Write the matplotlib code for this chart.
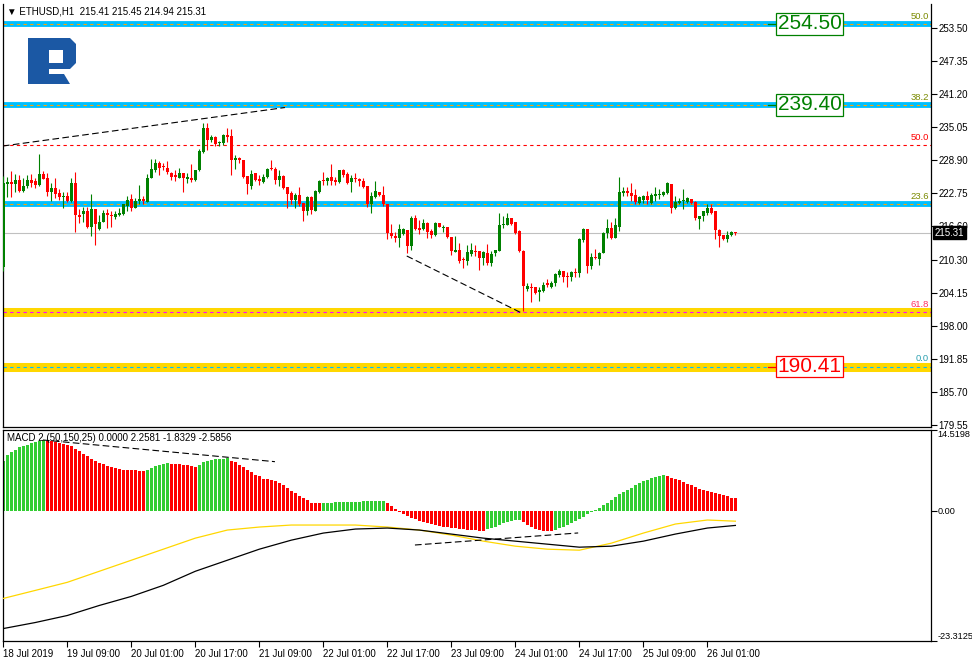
import matplotlib
matplotlib.use('Agg')
import matplotlib.pyplot as plt
import matplotlib.transforms as mtransforms
from matplotlib.patches import Polygon

plt.rcParams['font.family'] = ['Liberation Sans', 'DejaVu Sans']

# ---------------- data ----------------
opens = [208.9,224.4,224.8,224.5,225.1,223.2,224.0,225.1,224.9,224.3,226.3,225.5,223.0,223.7,222.8,221.9,222.2,221.3,224.6,218.7,
         218.8,219.4,216.5,219.8,216.1,217.3,219.1,218.7,218.2,218.6,218.8,220.4,221.6,220.0,221.2,221.7,221.0,225.6,227.0,228.3,
         227.6,227.3,226.5,226.0,225.6,226.5,225.4,225.6,225.1,227.0,230.4,234.9,232.6,233.1,232.0,232.0,233.5,233.3,228.9,229.3,
         228.9,225.9,224.1,226.4,225.4,224.8,225.7,227.3,227.2,225.2,225.9,223.8,222.7,221.5,222.4,220.9,219.3,221.9,219.4,222.9,
         225.1,224.9,225.8,225.1,224.7,227.0,226.2,224.7,225.6,225.4,225.0,224.0,220.6,222.0,222.9,222.4,220.6,215.3,214.8,214.4,
         215.1,215.9,212.8,218.1,216.2,216.0,217.2,215.6,215.0,217.2,216.3,216.5,214.6,211.8,212.2,210.5,210.1,211.3,212.0,211.9,
         210.7,211.6,209.8,211.5,211.9,216.7,216.7,218.0,217.3,215.6,212.0,204.9,205.2,205.2,204.3,204.5,205.9,205.3,205.9,207.4,
         208.3,207.3,207.2,208.0,207.9,213.9,216.0,209.1,210.9,210.4,211.6,215.3,216.3,214.4,216.4,222.8,223.1,222.8,222.4,220.9,
         221.5,222.2,220.9,222.2,222.4,222.3,222.7,224.4,220.0,220.9,221.2,221.0,221.6,221.0,217.9,218.4,219.0,220.0,219.3,215.9,
         215.0,214.2,214.9,215.41]
highs = [225.9,225.7,226.8,226.3,226.0,225.5,226.1,226.3,225.5,230.0,226.8,226.4,224.6,225.5,223.5,223.0,223.0,225.5,226.7,219.8,
         220.1,220.1,222.6,219.8,218.7,219.5,219.8,219.3,219.3,219.9,220.7,222.1,222.6,221.8,224.3,222.2,226.2,229.0,229.1,228.6,
         228.3,228.7,226.7,227.0,227.3,226.5,226.4,228.1,227.1,230.9,235.7,235.7,233.5,233.3,232.5,233.7,234.8,234.6,229.8,229.5,
         228.9,225.9,227.0,226.5,226.1,226.3,227.3,228.9,227.5,227.0,226.1,223.8,223.1,222.7,223.8,220.9,222.1,222.1,223.3,225.1,
         226.7,225.8,228.1,225.8,227.1,227.2,226.6,226.1,226.4,225.6,225.5,224.0,222.9,224.9,223.0,224.1,220.6,217.0,215.4,216.9,
         216.3,215.9,218.4,218.7,217.8,217.9,217.3,216.0,217.3,217.2,216.7,216.5,214.6,214.8,213.5,210.9,213.1,213.5,213.1,211.9,
         211.9,213.3,211.9,212.2,219.0,218.4,219.0,218.1,217.3,215.8,212.2,206.0,205.9,205.2,205.3,206.2,206.8,206.4,207.8,208.6,
         208.3,208.1,208.3,208.7,214.4,216.2,216.0,211.5,212.3,211.7,215.5,217.9,217.4,218.1,225.7,223.8,223.8,224.6,223.5,222.2,
         222.4,223.1,222.8,223.8,223.5,223.2,224.8,224.4,222.2,221.8,223.5,222.0,221.6,221.2,218.5,219.3,220.6,220.7,219.3,216.0,
         215.0,215.6,215.6,215.45]
lows = [208.2,222.0,221.9,223.0,223.0,223.0,223.6,223.8,223.6,224.1,225.3,222.1,221.3,221.8,221.5,220.0,221.0,221.0,215.5,217.2,
        217.4,216.2,214.7,213.1,215.9,217.3,216.2,216.5,217.9,218.4,218.7,219.3,219.4,219.9,220.6,220.6,221.0,225.5,226.7,226.0,
        227.0,226.2,225.2,224.9,225.5,223.0,224.6,224.7,225.0,226.9,230.1,230.7,232.3,231.5,231.5,231.7,232.3,226.1,227.2,228.3,
        225.5,222.6,223.5,224.9,224.3,224.6,225.5,227.0,224.4,224.0,223.5,220.0,220.7,220.0,220.4,217.6,218.7,218.9,219.3,222.7,
        224.3,224.3,224.3,224.3,224.6,225.8,224.4,223.0,224.8,224.1,223.6,220.2,219.1,221.8,222.2,220.4,214.2,214.4,213.6,212.7,
        215.0,211.5,212.2,215.8,215.2,215.8,214.4,214.4,214.8,216.4,215.4,214.4,211.2,211.7,209.8,208.8,209.3,211.1,211.0,208.4,
        209.4,209.3,209.1,211.1,211.9,216.3,216.7,216.7,215.1,211.7,200.8,204.5,202.5,204.0,202.6,204.3,205.3,205.1,205.4,207.2,
        206.2,205.2,206.3,207.1,207.1,213.6,207.8,208.6,210.5,209.3,211.5,214.4,214.2,214.4,215.6,222.1,222.2,221.2,220.7,220.7,
        220.9,220.7,220.7,221.3,221.6,222.1,222.6,219.1,219.8,220.6,219.8,220.9,220.7,217.8,216.1,217.5,218.7,218.9,214.1,212.6,
        213.9,213.6,214.7,214.94]
closes = [224.6,224.8,224.4,225.1,223.2,224.1,225.1,224.6,224.3,226.3,225.4,223.0,223.7,222.6,221.9,222.2,221.3,224.6,218.7,218.2,
          219.4,216.5,219.8,217.0,217.4,219.1,218.6,218.5,218.9,219.0,220.6,221.5,220.0,221.3,221.6,221.2,225.5,227.2,228.3,227.3,
          227.5,226.6,225.8,225.7,226.5,225.5,225.7,225.1,227.0,230.6,234.9,232.6,233.1,231.8,232.3,233.5,233.1,228.9,229.3,228.8,
          225.7,224.4,226.3,225.1,224.9,225.7,227.2,227.2,225.2,225.9,223.6,222.6,221.5,222.4,220.6,219.3,221.9,219.6,223.1,225.0,
          224.9,225.5,224.9,224.7,227.0,226.0,224.6,225.6,225.4,224.9,223.8,220.6,222.1,223.2,222.4,220.6,215.3,214.7,214.3,216.0,
          216.0,212.8,218.1,216.0,215.9,217.2,215.4,215.0,217.2,216.4,216.5,214.6,211.9,212.2,210.1,210.2,211.7,212.1,211.8,210.7,
          211.7,209.8,211.3,212.1,216.7,216.9,218.0,216.9,215.3,211.9,205.4,205.5,205.0,204.1,204.7,205.7,205.7,205.9,207.6,208.3,
          207.2,207.1,208.0,207.8,214.1,216.0,209.1,210.9,210.7,211.6,215.3,216.2,214.4,216.7,222.9,223.1,222.8,222.2,221.0,222.0,
          222.2,221.4,222.4,222.6,222.6,222.9,224.6,219.9,221.0,221.3,221.4,221.8,220.9,218.0,218.5,219.3,220.0,219.0,215.9,214.8,
          214.2,215.0,215.5,215.31]

# MACD histogram (one value per bar, 184 bars)
macd_hist = [9.0,10.1,10.6,11.0,11.4,11.6,11.9,12.2,12.4,12.6,12.8,12.6,12.5,12.3,12.2,12.0,11.8,11.6,11.2,10.7,
             10.2,9.8,9.3,8.9,8.6,8.4,8.1,7.9,7.7,7.5,7.4,7.35,7.3,7.28,7.25,7.2,7.4,7.7,8.0,8.3,
             8.5,8.55,8.5,8.45,8.4,8.3,8.2,8.0,7.9,8.3,8.7,9.0,9.2,9.25,9.3,9.4,9.45,9.0,8.7,8.3,
             7.9,7.4,6.9,6.5,6.2,5.8,5.7,5.6,5.3,5.0,4.6,4.1,3.6,3.2,2.7,2.3,1.9,1.5,1.45,1.4,
             1.45,1.5,1.52,1.55,1.58,1.6,1.62,1.64,1.66,1.68,1.7,1.72,1.74,1.76,1.78,1.8,
             1.4,0.9,0.4,-0.1,-0.5,-0.9,-1.2,-1.5,-1.8,-2.0,-2.2,-2.4,-2.6,-2.7,-2.8,-2.9,-3.0,-3.1,-3.2,-3.3,
             -3.35,-3.4,-3.45,-3.5,-3.55,
             -3.3,-3.1,-2.8,-2.5,-2.2,-2.0,-1.8,-1.7,-1.65,
             -2.0,-2.5,-2.9,-3.2,-3.4,-3.5,-3.6,-3.65,
             -3.4,-3.1,-2.8,-2.5,-2.2,-1.8,-1.4,-1.0,-0.6,-0.2,0.2,0.6,1.0,1.5,2.0,2.5,3.0,3.4,3.8,4.2,
             4.6,5.0,5.3,5.6,5.9,6.1,6.3,6.4,
             6.2,6.0,5.8,5.5,5.2,4.9,4.6,4.3,4.0,3.8,3.6,3.4,3.2,3.0,2.8,2.6,2.4,2.26]
macd_idx = [0,8,16,24,32,40,48,56,64,72,80,88,96,104,112,120,128,136,144,152,160,168,176,183]
macd_yellow = [-15.68,-14.24,-12.79,-10.81,-8.83,-6.85,-4.87,-3.42,-2.88,-2.52,-2.52,-2.52,-2.88,-3.42,-4.32,-5.41,
               -6.31,-6.85,-7.03,-5.77,-3.96,-2.34,-1.62,-1.83]
macd_black = [-21.08,-20.0,-18.74,-16.94,-15.32,-13.33,-10.81,-8.83,-6.85,-5.23,-3.96,-3.24,-3.06,-3.42,-4.14,-4.87,
              -5.41,-5.95,-6.49,-6.31,-5.41,-4.14,-3.06,-2.59]

price_ticks = [253.50,247.35,241.20,235.05,228.90,222.75,216.60,210.30,204.15,198.00,191.85,185.70,179.55]
price_tick_labels = ['253.50','247.35','241.20','235.05','228.90','222.75','216.60','210.30','204.15','198.00','191.85','185.70','179.55']
time_tick_idx = [0,16,32,48,64,80,96,112,128,144,160,176]
time_tick_labels = ['18 Jul 2019','19 Jul 09:00','20 Jul 01:00','20 Jul 17:00','21 Jul 09:00','22 Jul 01:00',
                    '22 Jul 17:00','23 Jul 09:00','24 Jul 01:00','24 Jul 17:00','25 Jul 09:00','26 Jul 01:00']
macd_ticks = [14.5198, 0.0, -23.3125]
macd_tick_labels = ['14.5198', '0.00', '-23.3125']

blue_levels = [254.18, 239.11, 220.69]
blue_level_names = ['50.0', '38.2', '23.6']
red_level = 231.67
red_level_name = '50.0'
yellow_levels = [200.54, 190.41]
yellow_level_names = ['61.8', '0.0']
current_price = 215.31
boxed_labels = ['254.50', '239.40', '190.41']
boxed_levels = [254.18, 239.11, 190.41]
boxed_colors = ['#008000', '#008000', '#FF0000']

trend1_x = [-0.1, 70.4]
trend1_y = [231.48, 238.64]
trend2_x = [100.85, 129.4]
trend2_y = [211.02, 200.47]
trend3_x = [9.9, 67.9]
trend3_y = [12.73, 8.84]
trend4_x = [102.9, 143.7]
trend4_y = [-6.10, -3.94]

title_text = 'ETHUSD,H1  215.41 215.45 214.94 215.31'
macd_title = 'MACD 2 (50,150,25) 0.0000 2.2581 -1.8329 -2.5856'

# ---------------- figure ----------------
W, H = 972, 662
fig = plt.figure(figsize=(W / 100, H / 100), dpi=100)
fig.patch.set_facecolor('white')

ax = fig.add_axes([3 / W, 1 - 427 / H, 928 / W, 423 / H])
axm = fig.add_axes([3 / W, 1 - 641 / H, 928 / W, 211 / H])

XL = (-0.075, 231.9)
for a in (ax, axm):
    a.set_xlim(*XL)
    for s in a.spines.values():
        s.set_linewidth(0.9)
        s.set_color('black')
ax.set_ylim(179.2, 257.9)
ax.spines['top'].set_visible(False)
axm.set_ylim(-23.3125, 14.5198)

n = len(opens)
idx = list(range(n))
cols = ['#008000' if c >= o else '#FF0000' for o, c in zip(opens, closes)]

# price levels
for lv in blue_levels:
    ax.axhline(lv, color='#00BFFF', linewidth=4.2, zorder=1)
    ax.axhline(lv, color='#FFA500', linewidth=0.8, dashes=(3, 3), zorder=2)
ax.axhline(red_level, color='#FF0000', linewidth=0.8, dashes=(3, 3), zorder=2)
ax.axhline(yellow_levels[0], color='#FFD700', linewidth=6.5, zorder=1)
ax.axhline(yellow_levels[0], color='#FF00FF', linewidth=0.8, dashes=(3, 3), zorder=2)
ax.axhline(yellow_levels[1], color='#FFD700', linewidth=6.5, zorder=1)
ax.axhline(yellow_levels[1], color='#00BFFF', linewidth=0.8, dashes=(3, 3), zorder=2)
ax.axhline(current_price, color='#C0C0C0', linewidth=0.8, zorder=1.5)

# candles
ax.vlines(idx, lows, highs, colors=cols, linewidth=0.8, zorder=3)
bottoms = [min(o, c) for o, c in zip(opens, closes)]
heights = [max(abs(c - o), 0.18) for o, c in zip(opens, closes)]
ax.bar(idx, heights, bottom=bottoms, width=0.72, color=cols, linewidth=0, zorder=4)

# trend lines
ax.plot(trend1_x, trend1_y, color='black', linewidth=0.8, dashes=(6, 3), zorder=5)
ax.plot(trend2_x, trend2_y, color='black', linewidth=0.8, dashes=(6, 3), zorder=5)

# fib level texts
bt = mtransforms.blended_transform_factory(ax.transAxes, ax.transData)
for lv, nm in zip(blue_levels, blue_level_names):
    ax.text(0.9975, lv + 0.5, nm, transform=bt, ha='right', va='bottom', fontsize=6.8, color='#7A8A00')
ax.text(0.9975, red_level + 0.5, red_level_name, transform=bt, ha='right', va='bottom', fontsize=6.8, color='#FF0000')
ax.text(0.9975, yellow_levels[0] + 0.7, yellow_level_names[0], transform=bt, ha='right', va='bottom', fontsize=6.8, color='#FF3060')
ax.text(0.9975, yellow_levels[1] + 0.7, yellow_level_names[1], transform=bt, ha='right', va='bottom', fontsize=6.8, color='#2AA0B0')

# boxed labels
for lb, lv, c in zip(boxed_labels, boxed_levels, boxed_colors):
    ax.plot([0.8244, 0.8362], [lv, lv], transform=bt, color=c, linewidth=0.9, zorder=6)
    ax.text(0.8691, lv, lb, transform=bt, ha='center', va='center', fontsize=15,
            family=['Liberation Sans Narrow', 'Liberation Sans'], color=c, zorder=7,
            bbox=dict(boxstyle='square,pad=0.06', facecolor='white', edgecolor=c, linewidth=0.9))

# price axis
ax.yaxis.tick_right()
ax.set_yticks(price_ticks)
ax.set_yticklabels(price_tick_labels)
ax.tick_params(axis='y', direction='out', length=4, width=0.8, pad=1.5, labelsize=7)
ax.set_xticks([])
ax.text(1.004, current_price, '215.31', transform=bt, ha='left', va='center', fontsize=7, color='white',
        bbox=dict(boxstyle='square,pad=0.15', facecolor='black', edgecolor='black'), zorder=8, clip_on=False)

# MACD
hcols = ['#32CD32' if (i == 0 or macd_hist[i] >= macd_hist[i - 1]) else '#FF0000' for i in range(len(macd_hist))]
axm.bar(list(range(len(macd_hist))), macd_hist, width=0.62, color=hcols, linewidth=0, zorder=2)
axm.plot(macd_idx, macd_yellow, color='#FFD700', linewidth=0.9, zorder=3)
axm.plot(macd_idx, macd_black, color='black', linewidth=0.9, zorder=3)
axm.plot(trend3_x, trend3_y, color='black', linewidth=0.8, dashes=(6, 3), zorder=4)
axm.plot(trend4_x, trend4_y, color='black', linewidth=0.8, dashes=(6, 3), zorder=4)
axm.yaxis.tick_right()
axm.set_yticks(macd_ticks)
axm.set_yticklabels(macd_tick_labels)
axm.tick_params(axis='y', direction='out', length=4, width=0.8, pad=0.5, labelsize=6.6)
ylabs = axm.get_yticklabels()
ylabs[0].set_va('top')
ylabs[2].set_va('bottom')
axm.set_xticks(time_tick_idx)
axm.set_xticklabels(time_tick_labels, ha='left')
axm.tick_params(axis='x', direction='out', length=4, width=0.8, pad=2, labelsize=7)
axm.text(0.004, 0.985, macd_title, transform=axm.transAxes, ha='left', va='top', fontsize=7, color='black')

# title
ax.text(0.004, 0.995, '\u25BC ' + title_text, transform=ax.transAxes, ha='left', va='top', fontsize=7, color='black',
        family=['Liberation Sans', 'DejaVu Sans'])

# logo (overlay in pixel space)
ov = fig.add_axes([0, 0, 1, 1], zorder=10)
ov.set_xlim(0, W)
ov.set_ylim(H, 0)
ov.axis('off')
ov.patch.set_alpha(0)
logo_main = [(28, 38), (70, 38), (76, 44), (76, 63), (70, 69), (49, 69), (49, 84), (28, 84)]
logo_hole = [(49, 50), (63, 50), (63, 63), (49, 63)]
logo_leg = [(49, 74), (64, 74), (70, 84), (49, 84)]
ov.add_patch(Polygon(logo_main, closed=True, facecolor='#1B58A4', edgecolor='none'))
ov.add_patch(Polygon(logo_hole, closed=True, facecolor='white', edgecolor='none'))
ov.add_patch(Polygon(logo_leg, closed=True, facecolor='#1B58A4', edgecolor='none'))

fig.savefig('out.png', dpi=100, facecolor='white')
